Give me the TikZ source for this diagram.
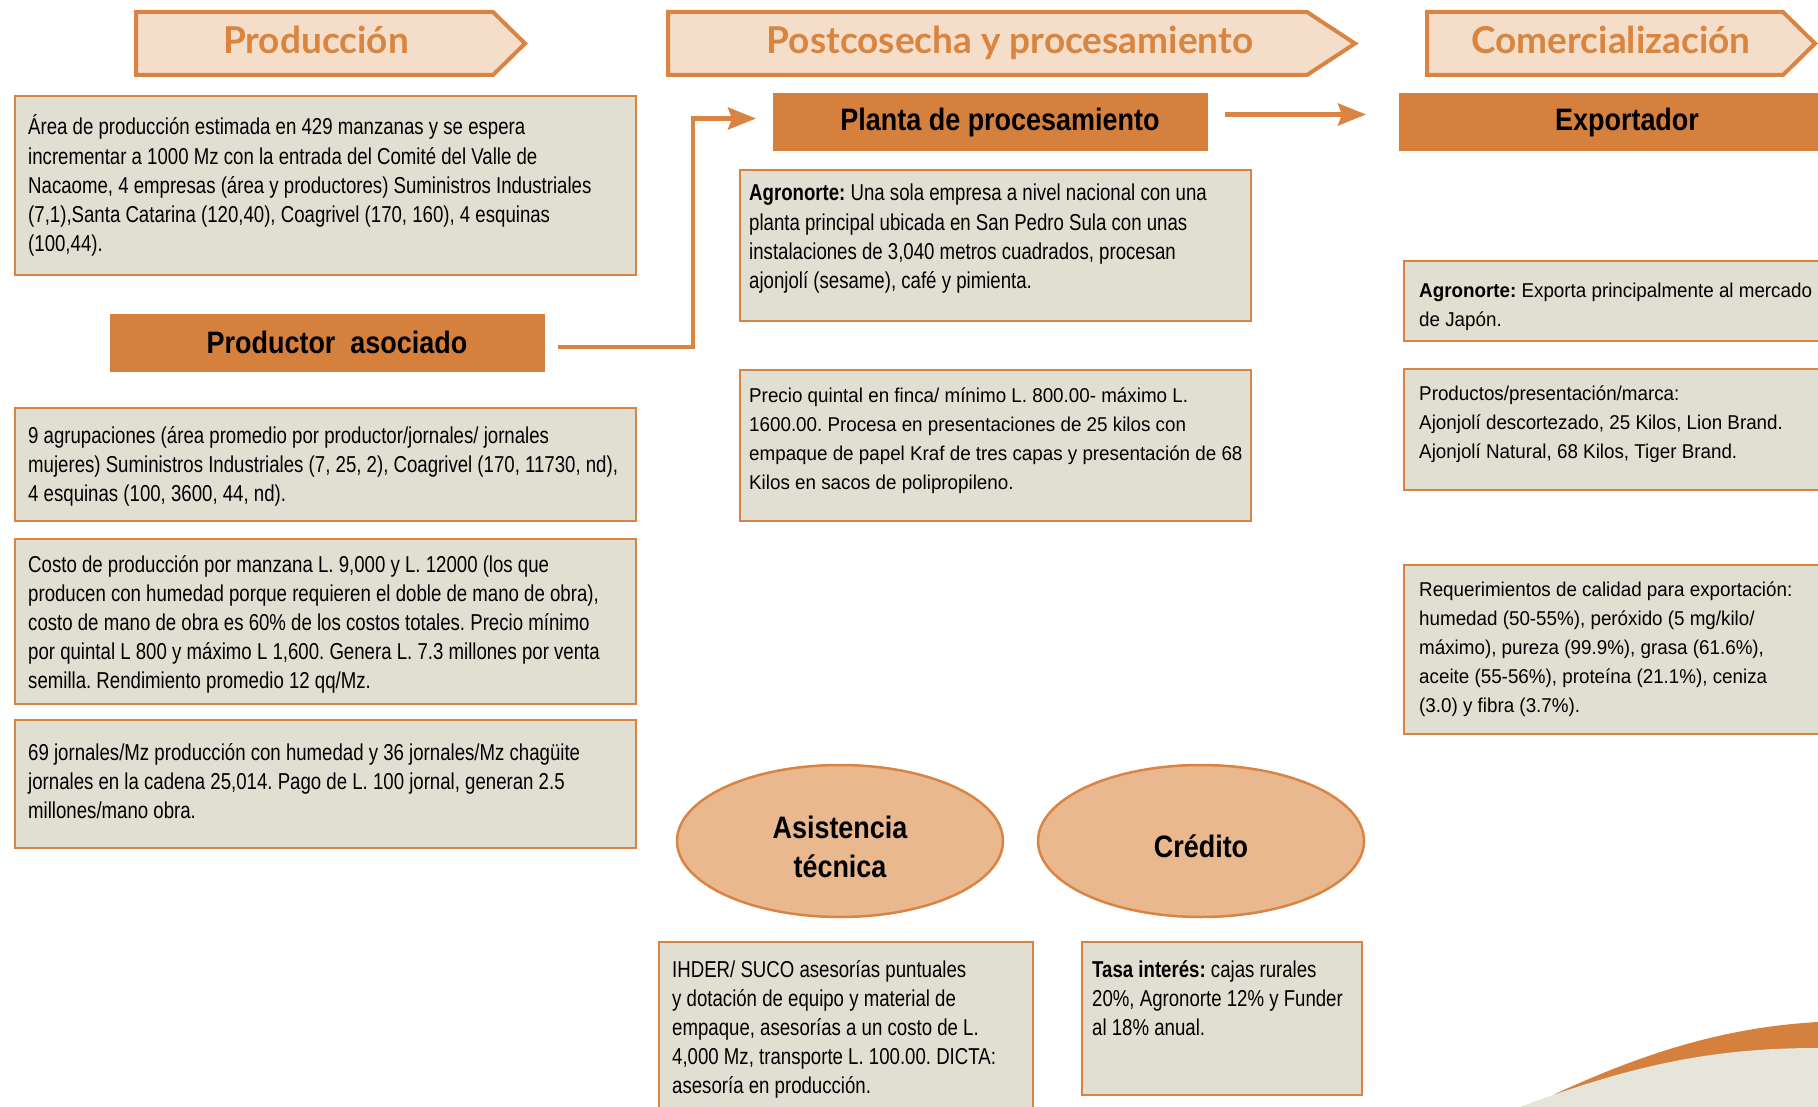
\documentclass[tikz,border=0pt]{standalone}
\usepackage{fontspec}
\setmainfont{Liberation Sans}
\newfontfamily\condf[FakeStretch=0.81]{Liberation Sans}
\newfontfamily\plainf[FakeStretch=0.94]{Liberation Sans}
\newfontfamily\titlef[FakeStretch=0.87]{Liberation Sans}
\newfontfamily\headf{Lato}
\usetikzlibrary{shapes.geometric,arrows.meta,calc}
\definecolor{orng}{HTML}{D6803E}
\definecolor{orngline}{HTML}{DA8443}
\definecolor{headtxtc}{HTML}{D9843F}
\definecolor{boxgray}{HTML}{E1DFD1}
\definecolor{peach}{HTML}{F5DEC9}
\definecolor{ellfill}{HTML}{EAB88F}
\definecolor{swgray}{HTML}{E6E5DA}
\newcommand{\tb}[1]{\begin{tabular}[t]{@{}l@{}}#1\end{tabular}}
\newcommand{\tbc}[1]{\begin{tabular}[t]{@{}c@{}}#1\end{tabular}}
\frenchspacing
\begin{document}
\begin{tikzpicture}[x=1pt,y=-1pt,
  infobox/.style={draw=orngline, line width=2.5pt, fill=boxgray, anchor=north west, inner sep=0pt, outer sep=0pt},
  titlebox/.style={fill=orng, anchor=north west, inner sep=0pt, outer sep=0pt},
  chev/.style={fill=peach, draw=orngline, line width=4pt, line join=miter},
  headtxt/.style={anchor=base, inner sep=0pt, text=headtxtc, font=\headf\bfseries\fontsize{37}{40}\selectfont},
  titletxt/.style={anchor=base, inner sep=0pt, text=black, font=\titlef\bfseries\fontsize{31}{39}\selectfont},
  condtxt/.style={anchor=base west, inner sep=0pt, text=black, font=\condf\fontsize{23}{29.2}\selectfont},
  plaintxt/.style={anchor=base west, inner sep=0pt, text=black, font=\plainf\fontsize{20}{29}\selectfont},
  ell/.style={ellipse, draw=orngline, line width=2.5pt, fill=ellfill, minimum width=326pt, minimum height=152pt, inner sep=0pt},
  conn/.style={draw=orngline, line width=4.5pt, -{Stealth[length=28pt, width=22pt, inset=4pt]}}
]
\useasboundingbox (0,0) rectangle (1818,1107);
\clip (0,0) rectangle (1818,1107);

% header chevrons
\draw[chev] (136,12) -- (493,12) -- (525,43.5) -- (493,75) -- (136,75) -- cycle;
\draw[chev] (668,12) -- (1307,12) -- (1355,43.5) -- (1307,75) -- (668,75) -- cycle;
\draw[chev] (1427,12) -- (1783,12) -- (1815,43.5) -- (1783,75) -- (1427,75) -- cycle;
\node[headtxt] (h1) at (316,54) {Producción};
\node[headtxt] (h2) at (1010,54) {Postcosecha y procesamiento};
\node[headtxt] (h3) at (1611,54) {Comercialización};

% title boxes
\node[titlebox, minimum width=435pt, minimum height=58pt] (prod) at (110,314) {};
\node[titlebox, minimum width=435pt, minimum height=58pt] (planta) at (773,93) {};
\node[titlebox, minimum width=425pt, minimum height=58pt] (export) at (1399,93) {};
\node[titletxt] (prodt) at (337,353) {Productor\ \ asociado};
\node[titletxt] (plantat) at (1000,131) {Planta de procesamiento};
\node[titletxt] (exportt) at (1627,131) {Exportador};

% left column
\node[infobox, minimum width=621pt, minimum height=179pt] (b1) at (15,96) {};
\node[infobox, minimum width=621pt, minimum height=113pt] (b2) at (15,408) {};
\node[infobox, minimum width=621pt, minimum height=165pt] (b3) at (15,539) {};
\node[infobox, minimum width=621pt, minimum height=128pt] (b4) at (15,720) {};
\node[condtxt] (b1t) at (28,135) {\tb{Área de producción estimada en 429 manzanas y se espera\\
incrementar a 1000 Mz con la entrada del Comité del Valle de\\
Nacaome, 4 empresas (área y productores) Suministros Industriales\\
(7,1),Santa Catarina (120,40), Coagrivel (170, 160), 4 esquinas\\
(100,44).}};
\node[condtxt] (b2t) at (28,443) {\tb{9 agrupaciones (área promedio por productor/jornales/ jornales\\
mujeres) Suministros Industriales (7, 25, 2), Coagrivel (170, 11730, nd),\\
4 esquinas (100, 3600, 44, nd).}};
\node[condtxt] (b3t) at (28,572) {\tb{Costo de producción por manzana L. 9,000 y L. 12000 (los que\\
producen con humedad porque requieren el doble de mano de obra),\\
costo de mano de obra es 60\% de los costos totales. Precio mínimo\\
por quintal L 800 y máximo L 1,600. Genera L. 7.3 millones por venta\\
semilla. Rendimiento promedio 12 qq/Mz.}};
\node[condtxt] (b4t) at (28,760) {\tb{69 jornales/Mz producción con humedad y 36 jornales/Mz chagüite\\
jornales en la cadena 25,014. Pago de L. 100 jornal, generan 2.5\\
millones/mano obra.}};

% middle column
\node[infobox, minimum width=511pt, minimum height=151pt] (p1) at (740,170) {};
\node[infobox, minimum width=511pt, minimum height=151pt] (p2) at (740,370) {};
\node[condtxt] (p1t) at (749,201) {\tb{\textbf{Agronorte:} Una sola empresa a nivel nacional con una\\
planta principal ubicada en San Pedro Sula con unas\\
instalaciones de 3,040 metros cuadrados, procesan\\
ajonjolí (sesame), café y pimienta.}};
\node[plaintxt] (p2t) at (749,402) {\tb{Precio quintal en finca/ mínimo L. 800.00- máximo L.\\
1600.00. Procesa en presentaciones de 25 kilos con\\
empaque de papel Kraf de tres capas y presentación de 68\\
Kilos en sacos de polipropileno.}};

% right column
\node[infobox, minimum width=420pt, minimum height=80pt] (e1) at (1404,261) {};
\node[infobox, minimum width=420pt, minimum height=121pt] (e2) at (1404,369) {};
\node[infobox, minimum width=420pt, minimum height=169pt] (e3) at (1404,565) {};
\node[plaintxt] (e1t) at (1419,298) {\tb{\textbf{Agronorte:} Exporta principalmente al mercado\\
de Japón.}};
\node[plaintxt] (e2t) at (1419,400) {\tb{Productos/presentación/marca:\\
Ajonjolí descortezado, 25 Kilos, Lion Brand.\\
Ajonjolí Natural, 68 Kilos, Tiger Brand.}};
\node[plaintxt] (e3t) at (1419,596) {\tb{Requerimientos de calidad para exportación:\\
humedad (50-55\%), peróxido (5 mg/kilo/\\
máximo), pureza (99.9\%), grasa (61.6\%),\\
aceite (55-56\%), proteína (21.1\%), ceniza\\
(3.0) y fibra (3.7\%).}};

% ellipses
\node[ell] (asis) at (840,841) {};
\node[ell] (cred) at (1201,841) {};
\node[titletxt] (asist) at (840,838) {\tbc{Asistencia\\técnica}};
\node[titletxt] (credt) at (1201,857) {Crédito};

% bottom boxes
\node[infobox, minimum width=374pt, minimum height=185pt] (abox) at (659,942) {};
\node[infobox, minimum width=280pt, minimum height=153pt] (cbox) at (1082,942) {};
\node[condtxt] (at) at (672,977) {\tb{IHDER/ SUCO asesorías puntuales\\
y dotación de equipo y material de\\
empaque, asesorías a un costo de L.\\
4,000 Mz, transporte L. 100.00. DICTA:\\
asesoría en producción.}};
\node[condtxt] (ct) at (1092,977) {\tb{\textbf{Tasa interés:} cajas rurales\\
20\%, Agronorte 12\% y Funder\\
al 18\% anual.}};

% connectors
\coordinate (c1s) at ([xshift=13pt,yshift=-4pt]prod.east);
\coordinate (c1e) at ([xshift=-17pt,yshift=3.5pt]planta.west);
\draw[conn] (c1s) -| ($(c1e)+(-63,0)$) -- (c1e);
\coordinate (c2s) at ([xshift=17pt,yshift=7.5pt]planta.east);
\coordinate (c2e) at ([xshift=-33pt,yshift=7.5pt]export.west);
\draw[conn] (c2s) -- (c2e);

% decorative swoosh
\fill[orng] (1555,1094) .. controls (1650,1050) and (1730,1027) .. (1818,1022) -- (1818,1107) -- (1555,1107) -- cycle;
\fill[swgray] (1520,1107) .. controls (1640,1062) and (1720,1048) .. (1818,1048) -- (1818,1107) -- cycle;
\end{tikzpicture}
\end{document}
